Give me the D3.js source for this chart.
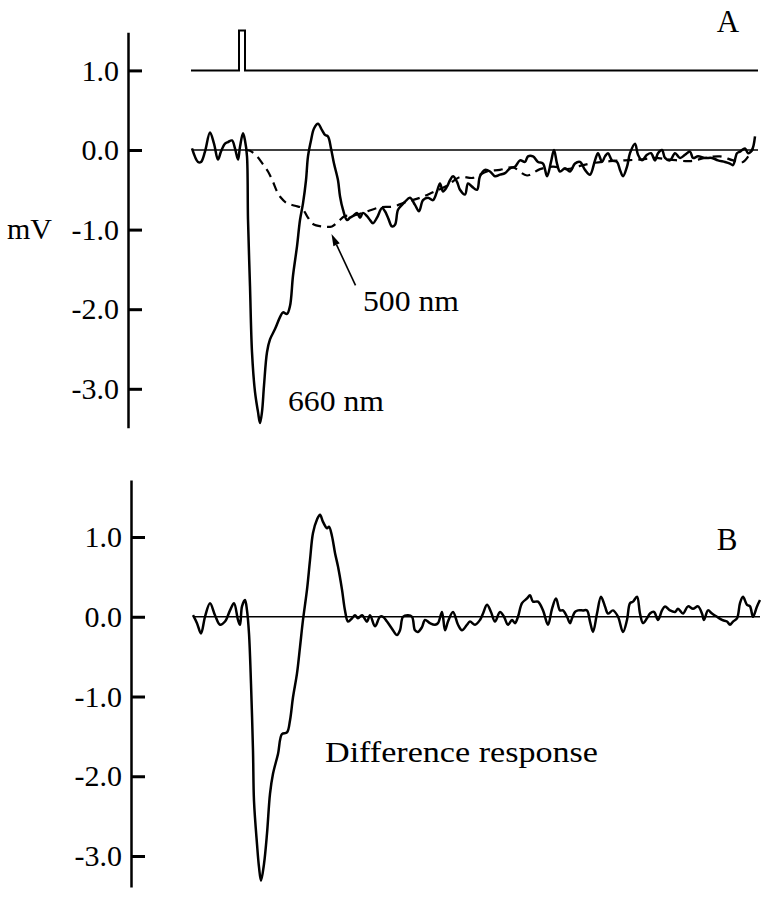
<!DOCTYPE html>
<html>
<head>
<meta charset="utf-8">
<script src="https://cdn.jsdelivr.net/npm/d3@7"></script>
<style>
  body { margin: 0; background: #fff; }
  text { font-family: "Liberation Serif", "DejaVu Serif", serif; fill: #000; }
</style>
</head>
<body>
<div id="chart"></div>
<script>
// time in ms (sweep start = 0), voltage in mV

// A: 660 nm response (solid)
const t660 = [2, 8, 11, 15, 20, 24, 28, 31, 35, 38, 42, 45, 48, 50, 53, 55, 57, 58, 60, 62, 65, 68, 70, 72, 74, 77,
  80, 85, 90, 93, 97, 100, 103, 107, 110, 113, 116, 118, 121, 124, 128, 132, 135, 138, 141, 144, 148, 150, 153, 157,
  160, 163, 167, 170, 173, 177, 180, 183, 187, 192, 195, 198, 202, 205, 208, 212, 215, 220, 225, 229, 233, 238, 243,
  247, 250, 253, 257, 260, 263, 267, 270, 275, 278, 282, 287, 290, 295, 300, 305, 310, 315, 320, 325, 330, 335, 338,
  343, 348, 353, 357, 361, 364, 367, 370, 375, 380, 385, 390, 395, 400, 405, 408, 412, 415, 418, 422, 427, 430, 433,
  437, 440, 445, 448, 452, 457, 461, 465, 468, 472, 475, 480, 485, 490, 495, 500, 503, 508, 515, 522, 528, 535, 540,
  543, 547, 550, 555, 558, 562, 565];
const v660 = [0.02, -0.15, -0.15, -0.02, 0.22, 0.08, -0.12, -0.02, 0.08, 0.1, 0.12, 0.02, -0.12, 0.04, 0.21, 0.12, -0.08,
  -0.87, -1.71, -2.54, -3.04, -3.29, -3.43, -3.29, -2.96, -2.54,
  -2.38, -2.25, -2.1, -2.04, -2.06, -1.96, -1.58, -1.21, -0.88, -0.67, -0.38, -0.08, 0.12, 0.27, 0.33, 0.25, 0.19, 0.17,
  0.02, -0.17, -0.38, -0.58, -0.75, -0.88,
  -0.85, -0.83, -0.79, -0.85, -0.79, -0.83, -0.88, -0.92, -0.85, -0.73, -0.77, -0.85, -0.96, -0.94, -0.75, -0.69, -0.65,
  -0.6, -0.69, -0.77, -0.63, -0.6, -0.63,
  -0.52, -0.42, -0.52, -0.46, -0.38, -0.33, -0.4, -0.5, -0.56, -0.42, -0.46, -0.5, -0.33, -0.25, -0.27, -0.33, -0.31,
  -0.29, -0.23, -0.21, -0.13, -0.15, -0.08,
  -0.08, -0.15, -0.17, -0.33, -0.15, 0.0, -0.17, -0.27, -0.23, -0.27, -0.17, -0.15, -0.25, -0.31, -0.13, -0.04, -0.15,
  -0.08, -0.04, -0.13, -0.15, -0.25, -0.33,
  -0.21, -0.04, 0.08, -0.06, -0.13, -0.06, -0.04, -0.13, -0.04, 0.0, -0.1, -0.13, -0.04, -0.1, -0.06, -0.02, -0.1, -0.08,
  -0.1, -0.1, -0.13, -0.15, -0.17,
  -0.19, -0.04, -0.02, 0.02, -0.04, 0.0, 0.17];

// A: 500 nm response (dashed)
const t500 = [55, 60, 67, 73, 78, 83, 87, 91, 97, 105, 112, 117, 123, 132, 142, 148, 155, 165, 175, 190, 203, 217, 230,
  243, 257, 270, 283, 297, 310, 323, 337, 350, 363, 377, 390, 405, 420, 435, 450, 465, 480, 500, 515, 530, 543, 553, 563];
const v500 = [0.0, -0.01, -0.08, -0.18, -0.27, -0.4, -0.52, -0.6, -0.67, -0.7, -0.73, -0.83, -0.93, -0.96, -0.96, -0.9,
  -0.83, -0.82, -0.78, -0.72, -0.71, -0.65, -0.6,
  -0.53, -0.45, -0.34, -0.35, -0.27, -0.25, -0.22, -0.32, -0.24, -0.21, -0.24, -0.2, -0.16, -0.14, -0.13, -0.12, -0.1,
  -0.12, -0.14, -0.1, -0.08, -0.13, -0.15, 0.02];

// A: stimulus marker
const tStim = [1, 49, 49, 55, 55, 568];
const vStim = [1.0, 1.0, 1.5, 1.5, 1.0, 1.0];

// B: difference response
const tDiff = [3, 7, 11, 15, 20, 25, 30, 35, 40, 44, 48, 50, 52, 55, 57, 59, 61, 63, 64, 67, 69, 71, 74, 77, 80, 83, 88,
  92, 97, 100, 103, 107, 110, 113, 117, 120, 123, 127, 130, 133, 137, 139, 142, 145, 148, 152, 155, 158, 162, 165,
  168, 172, 177, 180, 185, 190, 193, 197, 202, 207, 210, 213, 218, 222, 225, 228, 232, 235, 240, 245, 248, 252, 255,
  258, 263, 268, 272, 277, 280, 285, 290, 293, 297, 301, 305, 310, 314, 318, 322, 325, 328, 332, 337, 340, 343, 348,
  353, 358, 362, 366, 370, 373, 377, 380, 382, 385, 388, 393, 397, 400, 403, 407, 411, 415, 418, 423, 428, 433, 437,
  440, 443, 447, 450, 453, 457, 460, 464, 468, 472, 475, 480, 485, 488, 493, 498, 503, 508, 512, 514, 518, 522, 527,
  532, 537, 540, 543, 547, 550, 553, 557, 560, 563, 567, 570];
const vDiff = [0.02, -0.08, -0.21, 0.0, 0.17, 0.02, -0.1, -0.06, 0.08, 0.17, -0.04, -0.1, 0.13, 0.21, 0.08, -0.21, -0.84,
  -1.68, -2.31, -2.85, -3.14, -3.31, -3.1, -2.72, -2.22, -1.97, -1.72,
  -1.47, -1.45, -1.3, -1.01, -0.71, -0.38, -0.04, 0.34, 0.71, 1.05, 1.22, 1.28, 1.19, 1.11, 1.13, 1.01, 0.8, 0.63, 0.34,
  0.08, -0.06, -0.02, 0.02,
  -0.02, 0.02, -0.06, 0.02, -0.12, 0.0, 0.0, -0.06, -0.15, -0.23, -0.17, 0.0, 0.02, 0.0, -0.17, -0.19, -0.13, -0.04,
  -0.08, -0.1, -0.08, 0.06, -0.17,
  -0.06, 0.06, -0.1, -0.17, -0.1, -0.06, -0.1, -0.04, 0.04, 0.15, 0.06, -0.06, 0.06, 0.0, -0.1, -0.04, -0.08, 0.0, 0.17,
  0.23, 0.27, 0.19, 0.19,
  0.08, -0.1, 0.1, 0.23, 0.08, 0.08, 0.0, -0.08, -0.02, 0.06, 0.08, 0.08, 0.08, -0.06, -0.19, 0.04, 0.25, 0.13, 0.04,
  0.08, 0.0, -0.19, -0.04,
  0.17, 0.19, 0.25, 0.04, -0.08, -0.02, 0.04, 0.06, -0.04, 0.08, 0.13, 0.08, 0.06, 0.1, 0.04, 0.13, 0.1, 0.13, 0.04,
  -0.04, 0.08, 0.04, 0.0,
  -0.04, -0.06, -0.1, -0.06, -0.02, 0.17, 0.25, 0.15, 0.13, 0.0, 0.13, 0.21];

const yTicks = [1.0, 0.0, -1.0, -2.0, -3.0];

const width = 766, height = 900;
const serif = '"Liberation Serif", "DejaVu Serif", serif';

const svg = d3.select("#chart")
  .append("svg")
  .attr("width", width)
  .attr("height", height);

const x = d3.scaleLinear().domain([0, 570]).range([190, 760]);
const yA = d3.scaleLinear().domain([-3.49, 1.48]).range([427.8, 32.2]);
const yB = d3.scaleLinear().domain([-3.39, 1.715]).range([887.1, 480]);

function drawAxis(y, xPos) {
  const g = svg.append("g")
    .attr("transform", `translate(${xPos},0)`)
    .call(d3.axisLeft(y)
      .tickValues(yTicks)
      .tickFormat(d => d.toFixed(1))
      .tickSize(-14)
      .tickSizeOuter(0)
      .tickPadding(9));
  // axis() sets its own font, so override afterwards
  g.attr("font-size", 30).attr("font-family", serif);
  g.select(".domain").attr("stroke-width", 2.5);
  g.selectAll(".tick line").attr("stroke-width", 3);
}

drawAxis(yA, 128);
drawAxis(yB, 131);

const line = (y, curve) => d3.line()
  .x(d => x(d[0]))
  .y(d => y(d[1]))
  .curve(curve);

const smooth = d3.curveCatmullRom.alpha(0.5);

// zero lines
svg.append("line")
  .attr("x1", x(2)).attr("x2", x(568))
  .attr("y1", yA(0)).attr("y2", yA(0))
  .attr("stroke", "#000").attr("stroke-width", 1.5);
svg.append("line")
  .attr("x1", x(3)).attr("x2", x(570))
  .attr("y1", yB(0)).attr("y2", yB(0))
  .attr("stroke", "#000").attr("stroke-width", 1.5);

// stimulus
svg.append("path")
  .datum(d3.zip(tStim, vStim))
  .attr("d", line(yA, d3.curveLinear))
  .attr("fill", "none")
  .attr("stroke", "#000")
  .attr("stroke-width", 2);

// 500 nm dashed
svg.append("path")
  .datum(d3.zip(t500, v500))
  .attr("d", line(yA, smooth))
  .attr("fill", "none")
  .attr("stroke", "#000")
  .attr("stroke-width", 2.2)
  .attr("stroke-dasharray", "9,6");

// 660 nm solid
svg.append("path")
  .datum(d3.zip(t660, v660))
  .attr("d", line(yA, smooth))
  .attr("fill", "none")
  .attr("stroke", "#000")
  .attr("stroke-width", 2.5)
  .attr("stroke-linejoin", "round");

// difference
svg.append("path")
  .datum(d3.zip(tDiff, vDiff))
  .attr("d", line(yB, smooth))
  .attr("fill", "none")
  .attr("stroke", "#000")
  .attr("stroke-width", 2.5)
  .attr("stroke-linejoin", "round");

// arrow to the 500 nm trace
const tip = [x(141.5), yA(-1.055)], tail = [x(165.5), yA(-1.7)];
const ang = Math.atan2(tip[1] - tail[1], tip[0] - tail[0]);
const headLen = 12, headW = 3.5;
const base = [tip[0] - headLen * Math.cos(ang), tip[1] - headLen * Math.sin(ang)];
svg.append("line")
  .attr("x1", tail[0]).attr("y1", tail[1])
  .attr("x2", base[0]).attr("y2", base[1])
  .attr("stroke", "#000").attr("stroke-width", 1.6);
svg.append("path")
  .attr("d", d3.line()([
    tip,
    [base[0] + headW * Math.sin(ang), base[1] - headW * Math.cos(ang)],
    [base[0] - headW * Math.sin(ang), base[1] + headW * Math.cos(ang)]
  ]) + "Z")
  .attr("fill", "#000");

// labels
svg.append("text").attr("x", 7).attr("y", yA(-1)).attr("dy", "0.32em")
  .attr("font-size", 30).text("mV");
svg.append("text").attr("x", 728).attr("y", 32).attr("text-anchor", "middle")
  .attr("font-size", 31).text("A");
svg.append("text").attr("x", 727).attr("y", 550).attr("text-anchor", "middle")
  .attr("font-size", 31).text("B");
svg.append("text").attr("x", 363).attr("y", 311)
  .attr("font-size", 30).attr("textLength", 96).attr("lengthAdjust", "spacingAndGlyphs").text("500 nm");
svg.append("text").attr("x", 288).attr("y", 411)
  .attr("font-size", 30).attr("textLength", 96).attr("lengthAdjust", "spacingAndGlyphs").text("660 nm");
svg.append("text").attr("x", 325).attr("y", 762)
  .attr("font-size", 30).attr("textLength", 273).attr("lengthAdjust", "spacingAndGlyphs").text("Difference response");
</script>
</body>
</html>
